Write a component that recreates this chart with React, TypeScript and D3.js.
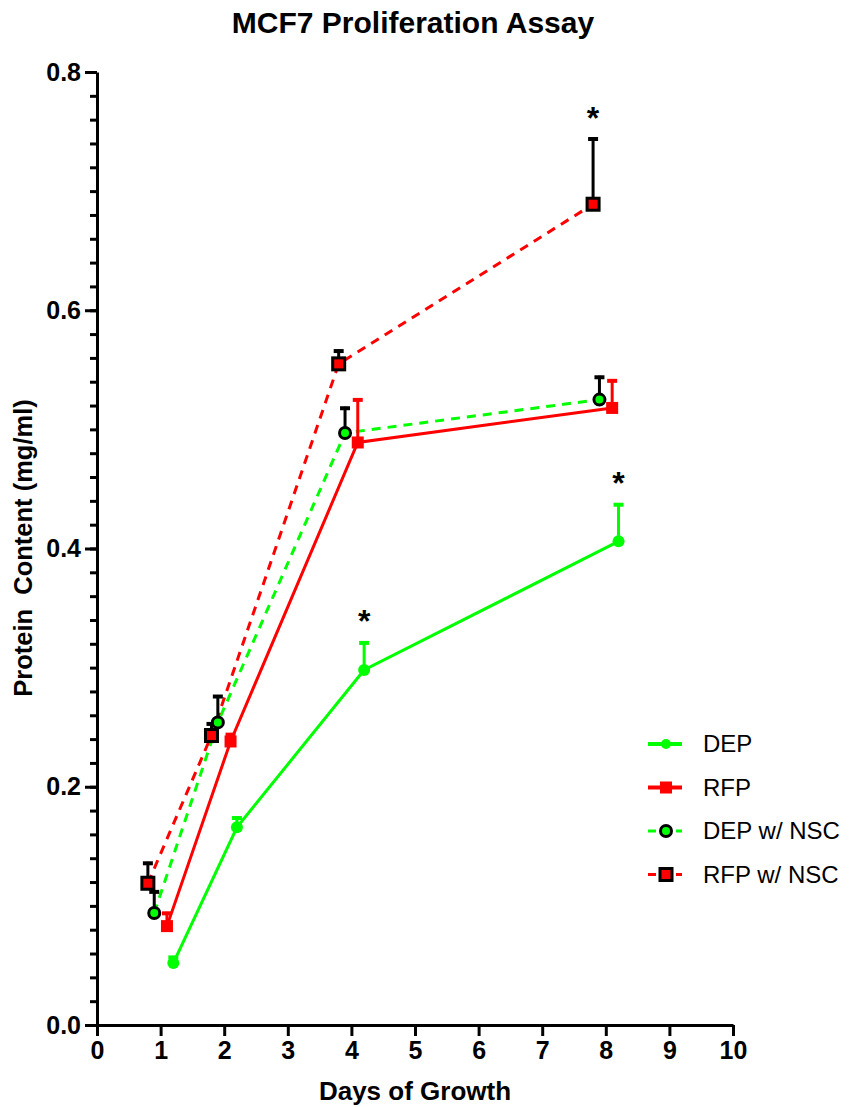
import React, { useRef, useEffect } from "react";
import * as d3 from "d3";

// measured days, each series is nudged sideways a little like the original
const days = [1, 2, 4, 8];

const depMean = [0.052, 0.166, 0.298, 0.406];
const depErr = [0.006, 0.009, 0.024, 0.032];
const rfpMean = [0.083, 0.238, 0.489, 0.518];
const rfpErr = [0.012, 0.007, 0.037, 0.024];
const depNscMean = [0.094, 0.254, 0.497, 0.525];
const depNscErr = [0.019, 0.023, 0.022, 0.02];
const rfpNscMean = [0.119, 0.243, 0.555, 0.689];
const rfpNscErr = [0.018, 0.011, 0.012, 0.056];

const xTicks = [0, 1, 2, 3, 4, 5, 6, 7, 8, 9, 10];
const yTicks = [0, 0.2, 0.4, 0.6, 0.8];

// significant points: [series index, day index]
const stars = [
  [0, 2],
  [0, 3],
  [3, 3],
];

const GREEN = "#00ff00";
const RED = "#ff0000";
const FONT = "'Liberation Sans', Arial, sans-serif";

const series = [
  { name: "DEP", mean: depMean, err: depErr, shift: 0.2, color: GREEN, dashed: false, shape: "circle", nsc: false },
  { name: "RFP", mean: rfpMean, err: rfpErr, shift: 0.1, color: RED, dashed: false, shape: "square", nsc: false },
  { name: "DEP w/ NSC", mean: depNscMean, err: depNscErr, shift: -0.1, color: GREEN, dashed: true, shape: "circle", nsc: true },
  { name: "RFP w/ NSC", mean: rfpNscMean, err: rfpNscErr, shift: -0.2, color: RED, dashed: true, shape: "square", nsc: true },
];

function Marker({ x, y, s, legend = false }) {
  if (s.shape === "circle") {
    if (s.nsc) return <circle cx={x} cy={y} r={5.5} fill={s.color} stroke="#000" strokeWidth={3} />;
    return <circle cx={x} cy={y} r={legend ? 5 : 6} fill={s.color} />;
  }
  if (s.nsc)
    return <rect x={x - 6} y={y - 6} width={12} height={12} fill={s.color} stroke="#000" strokeWidth={3} />;
  return <rect x={x - 6} y={y - 6} width={12} height={12} fill={s.color} />;
}

export default function App() {
  const width = 854;
  const height = 1107;

  const x = d3.scaleLinear().domain([0, 10]).range([97, 733]);
  const y = d3.scaleLinear().domain([0, 0.8]).range([1025, 72]);

  const xAxisRef = useRef(null);
  const yAxisRef = useRef(null);
  const yMinorRef = useRef(null);

  useEffect(() => {
    const xa = d3.select(xAxisRef.current);
    xa.call(d3.axisBottom(x).tickValues(xTicks).tickSize(11).tickSizeOuter(0).tickPadding(5).tickFormat(d3.format("d")));
    xa.selectAll("path, line").attr("stroke", "#000").attr("stroke-width", 3);
    xa.selectAll("text")
      .attr("fill", "#000")
      .style("font-family", FONT)
      .style("font-weight", "bold")
      .style("font-size", "25px");

    const ym = d3.select(yMinorRef.current);
    ym.call(d3.axisLeft(y).tickValues(d3.range(0, 0.801, 0.02)).tickSize(7).tickFormat(() => ""));
    ym.select(".domain").remove();
    ym.selectAll("line").attr("stroke", "#000").attr("stroke-width", 3);

    const ya = d3.select(yAxisRef.current);
    ya.call(d3.axisLeft(y).tickValues(yTicks).tickSize(12).tickSizeOuter(0).tickPadding(4).tickFormat(d3.format(".1f")));
    ya.selectAll("path, line").attr("stroke", "#000").attr("stroke-width", 3);
    ya.selectAll("text")
      .attr("fill", "#000")
      .style("font-family", FONT)
      .style("font-weight", "bold")
      .style("font-size", "25px");
  }, []);

  const line = d3
    .line<number>()
    .x((d) => d[0])
    .y((d) => d[1]);

  const px = (s, i) => x(days[i] + s.shift);

  return (
    <svg width={width} height={height} style={{ position: "absolute", left: 0, top: 0, background: "#fff" }}>
      <text x={413} y={33} textAnchor="middle" fontFamily={FONT} fontWeight="bold" fontSize={30}>
        MCF7 Proliferation Assay
      </text>

      {/* connecting lines */}
      {series.map((s, k) => (
        <path
          key={"l" + k}
          d={line(s.mean.map((m, i) => [px(s, i), y(m)]))}
          fill="none"
          stroke={s.color}
          strokeWidth={3}
          strokeDasharray={s.dashed ? "9 7" : null}
        />
      ))}

      {/* upper error bars */}
      {series.map((s, k) =>
        s.mean.map((m, i) => {
          const cx = px(s, i);
          const top = y(m + s.err[i]);
          const c = s.nsc ? "#000" : s.color;
          return (
            <g key={"e" + k + i}>
              <line x1={cx} x2={cx} y1={y(m)} y2={top} stroke={c} strokeWidth={3} />
              <line x1={cx - 5} x2={cx + 5} y1={top + 1.5} y2={top + 1.5} stroke={c} strokeWidth={4} />
            </g>
          );
        })
      )}

      {/* markers */}
      {series.map((s, k) =>
        s.mean.map((m, i) => <Marker key={"m" + k + i} x={px(s, i)} y={y(m)} s={s} />)
      )}

      {stars.map(([k, i], j) => {
        const s = series[k];
        return (
          <text
            key={"s" + j}
            x={px(s, i)}
            y={y(s.mean[i] + s.err[i]) - 9}
            textAnchor="middle"
            fontFamily={FONT}
            fontWeight="bold"
            fontSize={32}
          >
            *
          </text>
        );
      })}

      <g ref={yMinorRef} transform="translate(97,0)" />
      <g ref={yAxisRef} transform="translate(97,0)" />
      <g ref={xAxisRef} transform="translate(0,1025)" />

      <text
        transform="translate(32,548) rotate(-90)"
        textAnchor="middle"
        fontFamily={FONT}
        fontWeight="bold"
        fontSize={25.5}
        style={{ whiteSpace: "pre" }}
      >
        {"Protein  Content (mg/ml)"}
      </text>
      <text x={415} y={1100} textAnchor="middle" fontFamily={FONT} fontWeight="bold" fontSize={26}>
        Days of Growth
      </text>

      {/* legend */}
      {series.map((s, k) => {
        const ly = 744 + k * 43.5;
        return (
          <g key={"g" + k}>
            {s.dashed ? (
              <>
                <line x1={648} x2={656} y1={ly} y2={ly} stroke={s.color} strokeWidth={3} />
                <line x1={676} x2={682} y1={ly} y2={ly} stroke={s.color} strokeWidth={3} />
              </>
            ) : (
              <line x1={648} x2={682} y1={ly} y2={ly} stroke={s.color} strokeWidth={4} />
            )}
            <Marker x={666} y={ly} s={s} legend />
            <text x={703} y={ly + 8} fontFamily={FONT} fontSize={24}>
              {s.name}
            </text>
          </g>
        );
      })}
    </svg>
  );
}
